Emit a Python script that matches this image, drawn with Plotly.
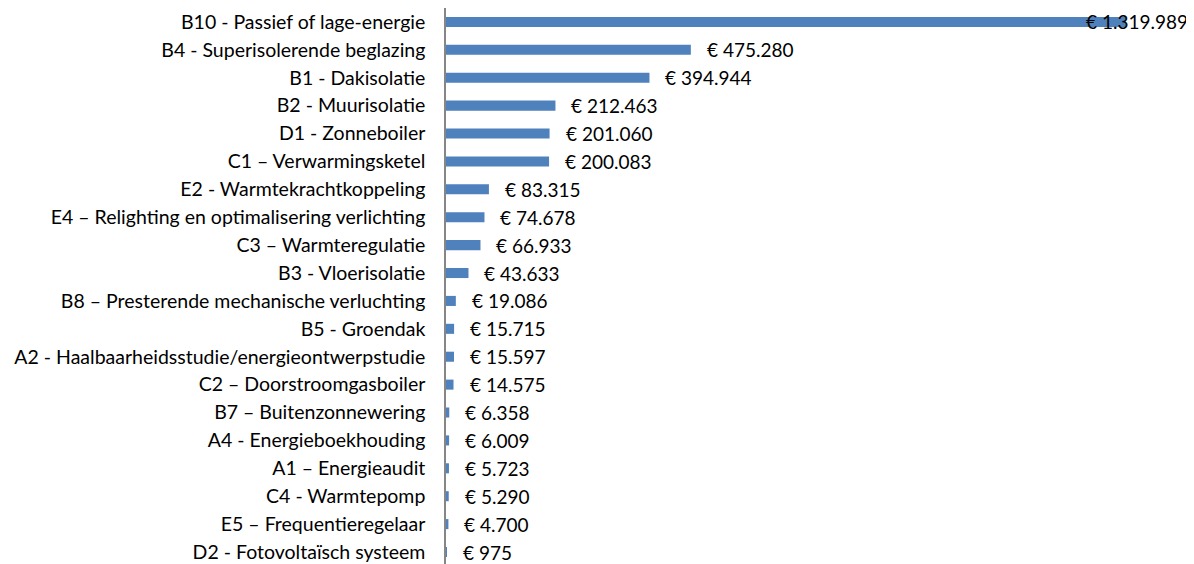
import plotly.graph_objects as go

categories = [
    "B10 - Passief of lage-energie",
    "B4 - Superisolerende beglazing",
    "B1 - Dakisolatie",
    "B2 - Muurisolatie",
    "D1 - Zonneboiler",
    "C1 – Verwarmingsketel",
    "E2 - Warmtekrachtkoppeling",
    "E4 – Relighting en optimalisering verlichting",
    "C3 – Warmteregulatie",
    "B3 - Vloerisolatie",
    "B8 – Presterende mechanische verluchting",
    "B5 - Groendak",
    "A2 - Haalbaarheidsstudie/energieontwerpstudie",
    "C2 – Doorstroomgasboiler",
    "B7 – Buitenzonnewering",
    "A4 - Energieboekhouding",
    "A1 – Energieaudit",
    "C4 - Warmtepomp",
    "E5 – Frequentieregelaar",
    "D2 - Fotovoltaïsch systeem",
]
values = [1319989, 475280, 394944, 212463, 201060, 200083, 83315, 74678, 66933,
          43633, 19086, 15715, 15597, 14575, 6358, 6009, 5723, 5290, 4700, 975]


def fmt(v):
    return "€ " + f"{v:,}".replace(",", ".")


FONT = "Lato"
FS = 19

fig = go.Figure(go.Bar(
    y=categories, x=values, orientation="h",
    marker=dict(color="#4F81BD", line=dict(width=0)),
    width=0.36,
))

for i, (c, v) in enumerate(zip(categories, values)):
    if i == 0:
        fig.add_annotation(x=v, y=c, text=fmt(v), showarrow=False,
                           xanchor="right", xshift=64,
                           font=dict(family=FONT, size=FS, color="black"))
    else:
        fig.add_annotation(x=v, y=c, text=fmt(v), showarrow=False,
                           xanchor="left", xshift=14,
                           font=dict(family=FONT, size=FS, color="black"))

# the page body adds an 8px offset, so the figure is 8px smaller and shifted
fig.update_layout(
    width=1186, height=556,
    margin=dict(l=438, r=0, t=0, b=0, autoexpand=False),
    paper_bgcolor="white", plot_bgcolor="white",
    showlegend=False,
    font=dict(family=FONT, size=FS, color="black"),
    xaxis=dict(range=[0, 1452000], visible=False, showgrid=False, zeroline=False),
    yaxis=dict(
        range=[19.43, -0.5], showgrid=False, zeroline=False, automargin=False,
        showline=True, linecolor="#868686", linewidth=1.5,
        ticks="", ticklabelstandoff=15,
        tickfont=dict(family=FONT, size=19.5, color="black"),
        categoryorder="array", categoryarray=categories,
    ),
)

fig.write_html("out.html")
